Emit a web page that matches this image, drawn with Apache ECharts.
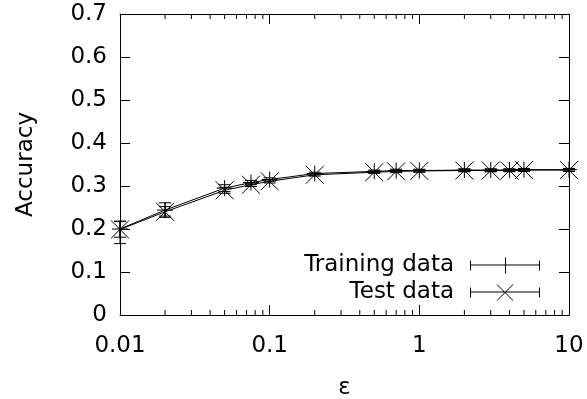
<!DOCTYPE html>
<html>
<head>
<meta charset="utf-8">
<script src="https://cdn.jsdelivr.net/npm/echarts@6/dist/echarts.min.js"></script>
<style>
  html, body { margin: 0; padding: 0; background: #fff; }
  #chart { width: 587px; height: 399px; }
</style>
</head>
<body>
<div id="chart"></div>
<script>
// Privacy parameter values
const epsilons = [0.01, 0.02, 0.05, 0.075, 0.1, 0.2, 0.5, 0.7, 1, 2, 3, 4, 5, 10];

// Training accuracy with lower / upper error limits
const trainAcc  = [0.200, 0.244, 0.295, 0.308, 0.315, 0.329, 0.334, 0.336, 0.336, 0.337, 0.337, 0.337, 0.338, 0.338];
const trainLow  = [0.166, 0.227, 0.287, 0.303, 0.311, 0.326, 0.331, 0.333, 0.333, 0.334, 0.334, 0.334, 0.335, 0.335];
const trainHigh = [0.218, 0.261, 0.303, 0.313, 0.319, 0.332, 0.337, 0.339, 0.339, 0.340, 0.340, 0.340, 0.341, 0.341];

// Test accuracy with lower / upper error limits
const testAcc  = [0.199, 0.240, 0.290, 0.303, 0.311, 0.326, 0.332, 0.334, 0.335, 0.336, 0.336, 0.336, 0.337, 0.337];
const testLow  = [0.181, 0.230, 0.283, 0.299, 0.307, 0.323, 0.329, 0.331, 0.332, 0.333, 0.333, 0.333, 0.334, 0.334];
const testHigh = [0.218, 0.252, 0.297, 0.307, 0.315, 0.329, 0.335, 0.337, 0.338, 0.339, 0.339, 0.339, 0.340, 0.340];

// Axis ticks
const yTicks = [0, 0.1, 0.2, 0.3, 0.4, 0.5, 0.6, 0.7];
const xMinorTicks = [];
[0.01, 0.1, 1].forEach(d => { for (let k = 2; k <= 9; k++) xMinorTicks.push(+(d * k).toPrecision(3)); });

const FONT = 'DejaVu Sans';
const FS = 23;
const BLACK = '#000';

const linePoints = (xs, ys) => xs.map((x, i) => [x, ys[i]]);
const barRows = (xs, ys, lo, hi) => xs.map((x, i) => [x, ys[i], lo[i], hi[i]]);

function errorBarRenderer(markerKind) {
  return function (params, api) {
    const x = api.value(0);
    const c = api.coord([x, api.value(1)]);
    const lo = api.coord([x, api.value(2)]);
    const hi = api.coord([x, api.value(3)]);
    const cap = 6;
    const st = { stroke: BLACK, lineWidth: 1 };
    const kids = [
      { type: 'line', shape: { x1: c[0], y1: lo[1], x2: c[0], y2: hi[1] }, style: st },
      { type: 'line', shape: { x1: c[0] - cap, y1: lo[1], x2: c[0] + cap, y2: lo[1] }, style: st },
      { type: 'line', shape: { x1: c[0] - cap, y1: hi[1], x2: c[0] + cap, y2: hi[1] }, style: st }
    ];
    if (markerKind === 'plus') {
      const r = 8;
      kids.push({ type: 'line', shape: { x1: c[0], y1: c[1] - r, x2: c[0], y2: c[1] + r }, style: st });
      kids.push({ type: 'line', shape: { x1: c[0] - r, y1: c[1], x2: c[0] + r, y2: c[1] }, style: st });
    } else {
      const r = 9;
      kids.push({ type: 'line', shape: { x1: c[0] - r, y1: c[1] - r, x2: c[0] + r, y2: c[1] + r }, style: st });
      kids.push({ type: 'line', shape: { x1: c[0] - r, y1: c[1] + r, x2: c[0] + r, y2: c[1] - r }, style: st });
    }
    return { type: 'group', children: kids };
  };
}

// Legend keys: horizontal error bar with end caps and the point marker
const trainIcon = 'path://M0,7H70V8H0Z M0,3H1V13H0Z M69,3H70V13H69Z M35,0H36V16H35Z';
const testIcon = 'path://M0,7H70V8H0Z M0,3H1V13H0Z M69,3H70V13H69Z ' +
  'M26.5,0L27.5,0L43.5,16L42.5,16Z M42.5,0L43.5,0L27.5,16L26.5,16Z';

const chart = echarts.init(document.getElementById('chart'), null, { renderer: 'canvas' });

const logAxisCommon = {
  type: 'log', logBase: 10, min: 0.01, max: 10,
  axisLine: { show: true, onZero: false, lineStyle: { color: BLACK, width: 1 } },
  axisTick: { show: true, inside: true, length: 10, lineStyle: { color: BLACK } },
  splitLine: { show: false }, minorTick: { show: false }
};
const valAxisCommon = {
  type: 'value', min: 0, max: 0.7, interval: 0.1,
  axisLine: { show: true, onZero: false, lineStyle: { color: BLACK, width: 1 } },
  axisTick: { show: true, inside: true, length: 10, lineStyle: { color: BLACK } },
  splitLine: { show: false }
};

chart.setOption({
  animation: false,
  backgroundColor: '#fff',
  textStyle: { fontFamily: FONT },
  grid: { left: 120, right: 18, top: 14, bottom: 84, containLabel: false, outerBoundsMode: 'none' },
  xAxis: [
    Object.assign({}, logAxisCommon, {
      position: 'bottom',
      name: 'ε', nameLocation: 'middle', nameGap: 62,
      nameTextStyle: { fontSize: FS, color: BLACK, fontFamily: FONT },
      axisLabel: {
        margin: 20, fontSize: FS, color: BLACK, fontFamily: FONT,
        formatter: v => String(+(+v).toPrecision(3))
      }
    }),
    Object.assign({}, logAxisCommon, { position: 'top', axisLabel: { show: false } })
  ],
  yAxis: [
    Object.assign({}, valAxisCommon, {
      position: 'left',
      name: 'Accuracy', nameLocation: 'middle', nameGap: 82, nameRotate: 90,
      nameTextStyle: { fontSize: FS, color: BLACK, fontFamily: FONT },
      axisLabel: {
        margin: 13, fontSize: FS, color: BLACK, fontFamily: FONT,
        formatter: v => (v === 0 ? '0' : v.toFixed(1))
      }
    }),
    Object.assign({}, valAxisCommon, { position: 'right', axisLabel: { show: false } })
  ],
  legend: {
    orient: 'vertical', align: 'right', right: 42, top: 249,
    itemWidth: 70, itemHeight: 16, itemGap: 4,
    textStyle: { fontSize: FS, color: BLACK, fontFamily: FONT, padding: [0, 11, 0, 0] },
    data: [
      { name: 'Training data', icon: trainIcon },
      { name: 'Test data', icon: testIcon }
    ]
  },
  series: [
    {
      name: 'Training data', type: 'line', data: linePoints(epsilons, trainAcc),
      symbol: 'none', color: BLACK, lineStyle: { color: BLACK, width: 1 }, z: 3
    },
    {
      name: 'Training data', type: 'custom', data: barRows(epsilons, trainAcc, trainLow, trainHigh),
      encode: { x: 0, y: 1 }, renderItem: errorBarRenderer('plus'), color: BLACK, z: 4, silent: true
    },
    {
      name: 'Test data', type: 'line', data: linePoints(epsilons, testAcc),
      symbol: 'none', color: BLACK, lineStyle: { color: BLACK, width: 1 }, z: 3
    },
    {
      name: 'Test data', type: 'custom', data: barRows(epsilons, testAcc, testLow, testHigh),
      encode: { x: 0, y: 1 }, renderItem: errorBarRenderer('cross'), color: BLACK, z: 4, silent: true
    },
    {
      // minor log ticks on the bottom and top borders
      name: 'minorTicks', type: 'custom', data: xMinorTicks.map(v => [v, 0]),
      encode: { x: 0, y: 1 }, silent: true, z: 5,
      renderItem: function (params, api) {
        const v = api.value(0);
        const b = api.coord([v, 0]);
        const t = api.coord([v, 0.7]);
        const st = { stroke: BLACK, lineWidth: 1 };
        return {
          type: 'group', children: [
            { type: 'line', shape: { x1: b[0], y1: b[1], x2: b[0], y2: b[1] - 5 }, style: st },
            { type: 'line', shape: { x1: t[0], y1: t[1], x2: t[0], y2: t[1] + 5 }, style: st }
          ]
        };
      }
    }
  ]
});
</script>
</body>
</html>
